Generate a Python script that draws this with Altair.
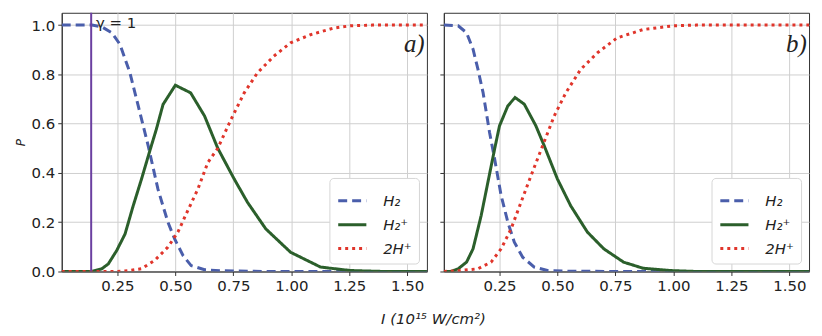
import altair as alt
import pandas as pd

SERIES = ["H₂", "H₂⁺", "2H⁺"]
COLORS = ["#4a5eab", "#2b5f2b", "#e0352b"]
DASHES = [[9, 5], [1, 0], [3, 4]]
XTICKS = [0.25, 0.5, 0.75, 1.0, 1.25, 1.5]
YTICKS = [0.0, 0.2, 0.4, 0.6, 0.8, 1.0]

# ---- panel a ----
a_h2_x = [0.01, 0.05, 0.10, 0.14, 0.183, 0.226, 0.261, 0.304, 0.34, 0.383, 0.425, 0.468, 0.497, 0.533, 0.568, 0.626, 0.70, 0.754, 0.9, 1.2, 1.585]
a_h2_y = [1.0, 1.0, 1.0, 1.0, 0.993, 0.969, 0.922, 0.807, 0.672, 0.51, 0.334, 0.2, 0.132, 0.065, 0.024, 0.007, 0.003, 0.002, 0.0, 0.0, 0.0]
a_h2p_x = [0.01, 0.14, 0.183, 0.211, 0.247, 0.283, 0.318, 0.354, 0.39, 0.418, 0.447, 0.5, 0.566, 0.626, 0.683, 0.754, 0.811, 0.89, 0.997, 1.126, 1.254, 1.4, 1.585]
a_h2p_y = [0.0, 0.0, 0.011, 0.031, 0.085, 0.152, 0.266, 0.375, 0.49, 0.577, 0.678, 0.756, 0.725, 0.631, 0.50, 0.375, 0.281, 0.173, 0.078, 0.018, 0.004, 0.0, 0.0]
a_2h_x = [0.01, 0.25, 0.30, 0.354, 0.411, 0.468, 0.511, 0.554, 0.597, 0.640, 0.683, 0.74, 0.797, 0.854, 0.925, 0.997, 1.083, 1.183, 1.254, 1.35, 1.585]
a_2h_y = [0.0, 0.0, 0.004, 0.011, 0.045, 0.099, 0.16, 0.248, 0.334, 0.442, 0.50, 0.617, 0.725, 0.806, 0.874, 0.928, 0.961, 0.988, 0.997, 1.0, 1.0]

# ---- panel b ----
b_h2_x = [0.01, 0.072, 0.108, 0.136, 0.157, 0.179, 0.207, 0.229, 0.257, 0.286, 0.314, 0.35, 0.4, 0.457, 0.55, 0.8, 1.585]
b_h2_y = [1.0, 0.997, 0.969, 0.902, 0.821, 0.727, 0.565, 0.457, 0.309, 0.2, 0.119, 0.058, 0.018, 0.004, 0.001, 0.0, 0.0]
b_h2p_x = [0.01, 0.04, 0.072, 0.108, 0.136, 0.171, 0.2, 0.229, 0.25, 0.286, 0.317, 0.357, 0.407, 0.443, 0.5, 0.557, 0.629, 0.7, 0.785, 0.87, 0.984, 1.1, 1.585]
b_h2p_y = [0.0, 0.0, 0.011, 0.038, 0.092, 0.227, 0.362, 0.497, 0.591, 0.672, 0.706, 0.679, 0.591, 0.51, 0.375, 0.267, 0.16, 0.092, 0.038, 0.013, 0.004, 0.0, 0.0]
b_2h_x = [0.01, 0.072, 0.157, 0.214, 0.257, 0.3, 0.343, 0.386, 0.436, 0.486, 0.536, 0.6, 0.672, 0.757, 0.87, 0.997, 1.1, 1.585]
b_2h_y = [0.0, 0.003, 0.011, 0.038, 0.092, 0.173, 0.281, 0.389, 0.51, 0.631, 0.725, 0.82, 0.887, 0.948, 0.982, 0.997, 1.0, 1.0]

GAMMA_X = 0.137


def frame(xs_list, ys_list):
    rows = []
    for k, (xs, ys) in enumerate(zip(xs_list, ys_list)):
        for i, (x, y) in enumerate(zip(xs, ys)):
            rows.append({"I": x, "P": y, "series": SERIES[k], "k": k, "i": i})
    return pd.DataFrame(rows)


def legend():
    return alt.Legend(
        title=None, orient="bottom-right", offset=8, symbolType="stroke",
        symbolSize=800, symbolStrokeWidth=3, labelFont="DejaVu Sans",
        labelFontSize=15, labelFontStyle="italic", labelColor="#222",
        labelOffset=15, rowPadding=0, padding=7, fillColor="white",
        strokeColor="#d6d6d6", cornerRadius=4,
    )


def panel(df, label, first):
    xs = alt.Scale(domain=[0.01, 1.585], nice=False, zero=False)
    ys = alt.Scale(domain=[0, 1.05], nice=False)
    base = alt.Chart(df)
    lines = base.mark_line(strokeWidth=3, strokeCap="butt", clip=True).encode(
        x=alt.X("I:Q", scale=xs, axis=alt.Axis(values=XTICKS, format=".2f", title=None)),
        y=alt.Y("P:Q", scale=ys, axis=alt.Axis(values=YTICKS, format=".1f",
                                                  title="P" if first else None,
                                                  labels=first)),
        color=alt.Color("series:N", scale=alt.Scale(domain=SERIES, range=COLORS), legend=legend()),
        strokeDash=alt.StrokeDash("series:N", scale=alt.Scale(domain=SERIES, range=DASHES), legend=legend()),
        detail="k:N",
        order="i:Q",
    )
    lab = alt.Chart().mark_text(font="Liberation Serif", fontStyle="italic", fontSize=25,
                                align="right", baseline="middle", color="#222").encode(
        x=alt.datum(1.575), y=alt.datum(0.925), text=alt.value(label))
    layers = [lines, lab]
    if first:
        rule = alt.Chart().mark_rule(color="#6b3fa0", strokeWidth=2).encode(x=alt.datum(GAMMA_X))
        gtxt = alt.Chart().mark_text(font="DejaVu Sans", fontSize=15, align="left",
                                     baseline="middle", color="#222").encode(
            x=alt.datum(0.158), y=alt.datum(1.01), text=alt.value("γ = 1"))
        layers = [lines, rule, gtxt, lab]
    return alt.layer(*layers).properties(width=367, height=260)


pa = panel(frame([a_h2_x, a_h2p_x, a_2h_x], [a_h2_y, a_h2p_y, a_2h_y]), "a)", True)
pb = panel(frame([b_h2_x, b_h2p_x, b_2h_x], [b_h2_y, b_h2p_y, b_2h_y]), "b)", False)

chart = alt.hconcat(pa, pb, spacing=11).resolve_legend(
    color="independent", strokeDash="independent"
).properties(
    title=alt.TitleParams(text="I (10¹⁵ W/cm²)", orient="bottom", anchor="middle",
                          font="DejaVu Sans", fontSize=15, fontStyle="italic",
                          fontWeight="normal", color="#222", offset=18, dx=22),
    padding={"left": 5, "top": 2, "right": 4, "bottom": 2},
).configure_axis(
    labelFont="DejaVu Sans", labelFontSize=15, labelColor="#222",
    tickColor="#333", tickSize=4, labelPadding=3, domainColor="#333",
    gridColor="#cfcfcf", gridWidth=1, titleFont="DejaVu Sans", titleFontSize=12,
    titleFontStyle="italic", titleFontWeight="normal", titleColor="#222",
).configure_view(stroke="#333", strokeWidth=1)

chart.save("out.html", embed_options={"renderer": "svg", "actions": False})
